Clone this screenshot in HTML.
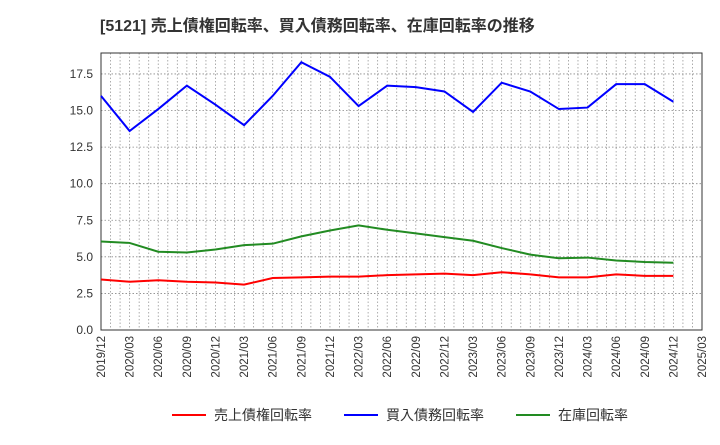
<!DOCTYPE html>
<html><head><meta charset="utf-8"><style>
body{margin:0;background:#fff;width:720px;height:440px;overflow:hidden;font-family:"Liberation Sans","Noto Sans CJK JP",sans-serif}
</style></head><body>
<svg id="c" width="720" height="440" xmlns="http://www.w3.org/2000/svg">
<text x="100" y="31" font-size="16" font-weight="bold" fill="#333" font-family="Liberation Sans, Noto Sans CJK JP, sans-serif">[5121]  売上債権回転率、買入債務回転率、在庫回転率の推移</text>
<g id="grid"></g><g id="axes"></g><g id="series"></g>
<g id="legend" font-size="14" font-family="Liberation Sans, Noto Sans CJK JP, sans-serif" fill="#333"></g>
</svg>
<script>
const categories=["2019/12","2020/03","2020/06","2020/09","2020/12","2021/03","2021/06","2021/09","2021/12","2022/03","2022/06","2022/09","2022/12","2023/03","2023/06","2023/09","2023/12","2024/03","2024/06","2024/09","2024/12","2025/03"];
const payables=[16.0,13.6,15.1,16.7,15.4,14.0,16.0,18.3,17.3,15.3,16.7,16.6,16.3,14.9,16.9,16.3,15.1,15.2,16.8,16.8,15.6];
const inventory=[6.05,5.95,5.35,5.3,5.5,5.8,5.9,6.4,6.8,7.15,6.85,6.6,6.35,6.1,5.6,5.15,4.9,4.95,4.75,4.65,4.6];
const receivables=[3.45,3.3,3.4,3.3,3.25,3.1,3.55,3.6,3.65,3.65,3.75,3.8,3.85,3.75,3.95,3.8,3.6,3.6,3.8,3.7,3.7];
const yTicks=[0,2.5,5,7.5,10,12.5,15,17.5];
const L=101,R=702,T=53,B=330,YMAX=18.93;
const NS="http://www.w3.org/2000/svg";
const x=i=>L+(R-L)*i/(categories.length-1);
const y=v=>B-(B-T)*v/YMAX;
function mk(tag,attrs,parent){const e=document.createElementNS(NS,tag);for(const k in attrs)e.setAttribute(k,attrs[k]);parent.appendChild(e);return e;}
const grid=document.getElementById('grid'),axes=document.getElementById('axes'),ser=document.getElementById('series'),leg=document.getElementById('legend');
const months=(categories.length-1)*3;
for(let m=1;m<months;m++){const xx=L+(R-L)*m/months;const l=mk('line',{x1:xx,x2:xx,y1:T,y2:B,stroke:'#999','stroke-width':0.8,'stroke-dasharray':'1.5,2'},grid);

}
yTicks.forEach(v=>{if(v>0){const l=mk('line',{x1:L,x2:R,y1:y(v),y2:y(v),stroke:'#888','stroke-width':0.8,'stroke-dasharray':'1.5,2'},grid);

}
const t=mk('text',{x:L-8,y:y(v)+4,'text-anchor':'end','font-size':12,fill:'#333'},axes);t.textContent=v.toFixed(1);

});
categories.forEach((c,i)=>{const t=mk('text',{transform:`translate(${x(i)+4},${B+6}) rotate(-90)`,'text-anchor':'end','font-size':11.5,fill:'#333'},axes);t.textContent=c;

});
const fr=mk('rect',{x:L,y:T,width:R-L,height:B-T,fill:'none',stroke:'#333','stroke-width':1},axes);


function line(data,color,name){const p=mk('polyline',{points:data.map((v,i)=>x(i)+','+y(v)).join(' '),fill:'none',stroke:color,'stroke-width':2},ser);

}
line(receivables,'#ff0000','receivables-turnover-line');
line(payables,'#0000ff','payables-turnover-line');
line(inventory,'#228b22','inventory-turnover-line');
const items=[["売上債権回転率","#ff0000",172],["買入債務回転率","#0000ff",344],["在庫回転率","#228b22",516]];
items.forEach(([n,c,lx])=>{const g=mk('g',{},leg);


mk('line',{x1:lx,x2:lx+34,y1:415,y2:415,stroke:c,'stroke-width':2},g);
const t=mk('text',{x:lx+42,y:420},g);t.textContent=n;});
</script>
</body></html>
